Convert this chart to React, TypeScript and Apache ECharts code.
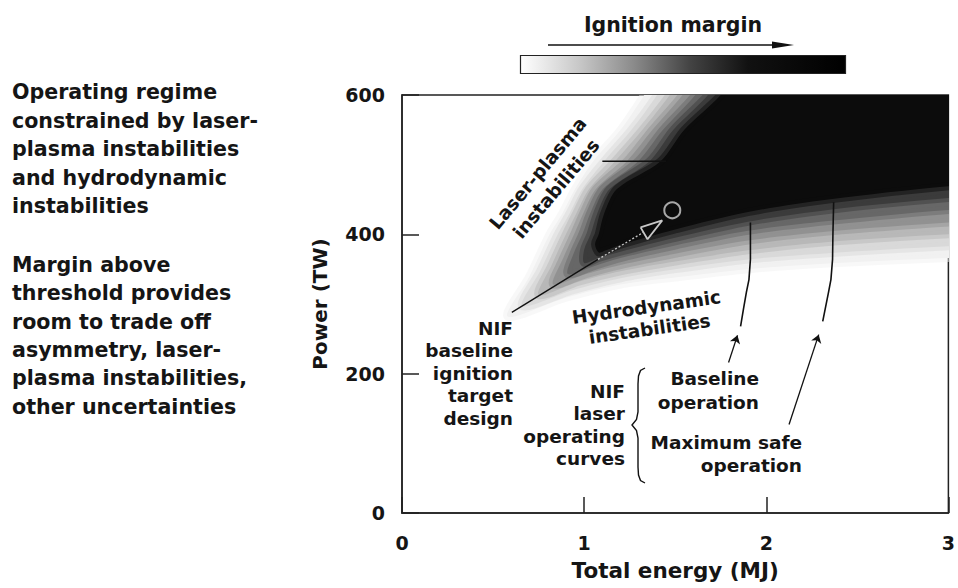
import React, { useEffect, useRef } from 'react';
import * as echarts from 'echarts';

const FONT = '"DejaVu Sans", "Liberation Sans", sans-serif';
const INK = '#151515';

// Axis ticks
const energyTicks = [0, 1, 2, 3];
const powerTicks = [0, 200, 400, 600];

// Ignition-margin shading contours (outer/lightest -> inner/black), points as [energy MJ, power TW]
const marginLevel1 = [
  [0.58, 282], [0.70, 340], [0.81, 400], [0.88, 430], [0.95, 465], [1.05, 505], [1.20, 550], [1.33, 600], [1.42, 640],
  [3.6, 640], [3.6, 371], [3.0, 366], [2.34, 358], [1.9, 350], [1.5, 338], [1.2, 328], [0.90, 309],
];
const marginLevel2 = [
  [0.66, 297], [0.76, 348], [0.855, 400], [0.92, 430], [0.99, 465], [1.11, 505], [1.26, 550], [1.40, 600], [1.49, 640],
  [3.6, 640], [3.6, 389], [3.0, 383], [2.34, 373], [1.9, 364], [1.5, 350], [1.2, 337], [0.94, 320],
];
const marginLevel3 = [
  [0.75, 313], [0.82, 355], [0.90, 400], [0.957, 430], [1.027, 465], [1.17, 505], [1.32, 550], [1.47, 600], [1.57, 640],
  [3.6, 640], [3.6, 407], [3.0, 400], [2.34, 389], [1.9, 377], [1.5, 361], [1.2, 347], [0.97, 332],
];
const marginLevel4 = [
  [0.83, 328], [0.88, 363], [0.945, 400], [0.995, 430], [1.065, 465], [1.235, 505], [1.375, 550], [1.54, 600], [1.64, 640],
  [3.6, 640], [3.6, 425], [3.0, 417], [2.34, 404], [1.9, 391], [1.5, 372], [1.2, 356], [1.01, 343],
];
const marginLevel5 = [
  [0.91, 343], [0.94, 371], [0.99, 400], [1.033, 430], [1.103, 465], [1.297, 505], [1.433, 550], [1.61, 600], [1.71, 640],
  [3.6, 640], [3.6, 444], [3.0, 435], [2.34, 419], [1.9, 405], [1.5, 384], [1.2, 366], [1.05, 354],
];
const marginLevel6 = [
  [1.0, 359], [1.0, 378], [1.035, 400], [1.072, 430], [1.14, 465], [1.36, 505], [1.49, 550], [1.68, 600], [1.79, 640],
  [3.6, 640], [3.6, 462], [3.0, 452], [2.34, 435], [1.9, 418], [1.5, 395], [1.2, 375], [1.08, 366],
];
const marginLevel7 = [
  [1.08, 374], [1.06, 386], [1.08, 400], [1.11, 430], [1.18, 465], [1.42, 505], [1.55, 550], [1.75, 600], [1.86, 640],
  [3.6, 640], [3.6, 480], [3.0, 469], [2.34, 450], [1.9, 432], [1.5, 407], [1.2, 385], [1.12, 377],
];
const marginLevels = [marginLevel1, marginLevel2, marginLevel3, marginLevel4, marginLevel5, marginLevel6, marginLevel7];
const marginGrays = [241, 217, 184, 145, 103, 59, 12];

// NIF laser operating curves
const baselineCurve = [[1.913, 417], [1.913, 364], [1.905, 335], [1.891, 317], [1.875, 293], [1.859, 268]];
const maxSafeCurve = [[2.370, 446], [2.366, 400], [2.364, 364], [2.355, 335], [2.342, 317], [2.310, 275]];

// Baseline ignition target design point and its marker
const baselineDesign = [[1.484, 434.5]];
const designArrowHead = [[1.310, 410], [1.429, 420], [1.348, 393], [1.310, 410]];
const designLeaderSolid = [[0.603, 288], [1.076, 364]];
const designLeaderDotted = [[1.076, 364], [1.326, 403]];
const lpThreshold = [[1.10, 505], [1.45, 505]];
const baselineLeader = [[1.793, 216], [1.842, 255]];
const maxSafeLeader = [[2.125, 127], [2.288, 256]];

const txt = (text: string, x: number, y: number, opts: any = {}) => ({
  type: 'text',
  x,
  y,
  rotation: opts.rotation || 0,
  z: 100,
  style: {
    text,
    fill: INK,
    fontFamily: FONT,
    fontWeight: 'bold',
    fontSize: opts.size || 18.5,
    lineHeight: opts.lh || 22.5,
    align: opts.align || 'left',
    verticalAlign: opts.va || 'top',
  },
});

export default function App() {
  const ref = useRef<HTMLDivElement>(null);

  useEffect(() => {
    if (!ref.current) return;
    const chart = echarts.init(ref.current, undefined, { renderer: 'svg' });

    const lineSeries = (data: number[][], color: string, width: number, type: any = 'solid', z = 10) => ({
      type: 'line',
      data,
      showSymbol: false,
      symbol: 'none',
      silent: true,
      z,
      lineStyle: { color, width, type },
    });

    const option: any = {
      animation: false,
      grid: {
        left: 402,
        right: 4,
        top: 95,
        bottom: 75,
        show: true,
        borderColor: '#222',
        borderWidth: 1.5,
        backgroundColor: 'transparent',
      },
      xAxis: {
        type: 'value',
        min: energyTicks[0],
        max: energyTicks[energyTicks.length - 1],
        interval: 1,
        name: 'Total energy (MJ)',
        nameLocation: 'middle',
        nameGap: 46,
        nameTextStyle: { fontFamily: FONT, fontWeight: 'bold', fontSize: 21.5, color: INK },
        axisLine: { show: true, lineStyle: { color: '#222', width: 1.5 } },
        axisTick: { show: true, inside: true, length: 16, lineStyle: { color: '#222', width: 1.5 } },
        axisLabel: { fontFamily: FONT, fontWeight: 'bold', fontSize: 19, color: INK, margin: 20 },
        splitLine: { show: false },
      },
      yAxis: {
        type: 'value',
        min: powerTicks[0],
        max: powerTicks[powerTicks.length - 1],
        interval: 200,
        name: 'Power (TW)',
        nameLocation: 'middle',
        nameGap: 72,
        nameTextStyle: { fontFamily: FONT, fontWeight: 'bold', fontSize: 20, color: INK },
        axisLine: { show: true, lineStyle: { color: '#222', width: 1.5 } },
        axisTick: { show: true, inside: true, length: 17, lineStyle: { color: '#222', width: 1.5 } },
        axisLabel: { fontFamily: FONT, fontWeight: 'bold', fontSize: 19, color: INK, margin: 17 },
        splitLine: { show: false },
      },
      series: [
        {
          type: 'custom',
          coordinateSystem: 'cartesian2d',
          clip: true,
          silent: true,
          z: 1,
          data: marginLevels.map((_, i) => [i]),
          encode: { x: -1, y: -1 },
          renderItem: (params: any, api: any) => {
            const idx = params.dataIndex;
            const g = marginGrays[idx];
            const pts = marginLevels[idx].map((p) => api.coord(p));
            return {
              type: 'polygon',
              shape: { points: pts, smooth: 0.3 },
              style: {
                fill: `rgb(${g},${g},${g})`,
                stroke: `rgba(${g},${g},${g},0.5)`,
                lineWidth: 8,
                lineJoin: 'round',
              },
            };
          },
        },
        lineSeries(lpThreshold, '#111', 1.5),
        lineSeries(baselineCurve, '#111', 1.6),
        lineSeries(maxSafeCurve, '#111', 1.6),
        lineSeries(designLeaderSolid, '#111', 1.3),
        lineSeries(designLeaderDotted, '#c4c4c4', 1.3, [2, 2]),
        lineSeries(designArrowHead, '#c8c8c8', 1.8, 'solid', 12),
        {
          type: 'scatter',
          data: baselineDesign,
          symbol: 'circle',
          symbolSize: 16,
          silent: true,
          z: 12,
          itemStyle: { color: 'rgba(0,0,0,0)', borderColor: '#d0d0d0', borderWidth: 2 },
        },
        {
          type: 'lines',
          coordinateSystem: 'cartesian2d',
          silent: true,
          z: 12,
          symbol: ['none', 'arrow'],
          symbolSize: [0, 8],
          lineStyle: { color: '#111', width: 1.3, opacity: 1 },
          data: [{ coords: baselineLeader }, { coords: maxSafeLeader }],
        },
      ],
      graphic: [
        // Ignition margin scale
        txt('Ignition margin', 673, 25, { size: 20.5, align: 'center', va: 'middle' }),
        {
          type: 'line',
          z: 100,
          shape: { x1: 548, y1: 45, x2: 776, y2: 45 },
          style: { stroke: '#111', lineWidth: 1.6 },
        },
        {
          type: 'polygon',
          z: 100,
          shape: { points: [[772, 41.5], [794, 45], [772, 48.5]] },
          style: { fill: '#111' },
        },
        {
          type: 'rect',
          z: 100,
          shape: { x: 520.5, y: 55.5, width: 325, height: 18 },
          style: {
            stroke: '#222',
            lineWidth: 1.2,
            fill: new echarts.graphic.LinearGradient(0, 0, 1, 0, [
              { offset: 0, color: '#ffffff' },
              { offset: 0.05, color: '#f0f0f0' },
              { offset: 0.18, color: '#c8c8c8' },
              { offset: 0.35, color: '#8a8a8a' },
              { offset: 0.52, color: '#444444' },
              { offset: 0.7, color: '#111111' },
              { offset: 1, color: '#000000' },
            ]),
          },
        },
        // Left explanatory text
        txt('Operating regime\nconstrained by laser-\nplasma instabilities\nand hydrodynamic\ninstabilities', 12, 78, { size: 20.6, lh: 28.5 }),
        txt('Margin above\nthreshold provides\nroom to trade off\nasymmetry, laser-\nplasma instabilities,\nother uncertainties', 12, 251, { size: 20.6, lh: 28.3 }),
        // In-plot annotations
        txt('Laser-plasma\ninstabilities', 547, 181, { align: 'center', va: 'middle', rotation: 0.873, lh: 24 }),
        txt('Hydrodynamic\ninstabilities', 648, 318, { align: 'center', va: 'middle', rotation: 0.14, lh: 22 }),
        txt('NIF\nbaseline\nignition\ntarget\ndesign', 513, 317, { align: 'right' }),
        txt('NIF\nlaser\noperating\ncurves', 625, 380, { align: 'right' }),
        txt('Baseline\noperation', 759, 366, { align: 'right', lh: 24 }),
        txt('Maximum safe\noperation', 802, 430.5, { align: 'right', lh: 23 }),
        {
          type: 'polyline',
          z: 100,
          shape: {
            points: [
              [645, 368], [640.5, 370.5], [638.5, 376], [638, 384], [638, 412], [636.5, 419.5], [632, 425],
              [636.5, 430.5], [638, 438], [638, 467], [638.5, 475], [640.5, 480.5], [645, 483],
            ],
          },
          style: { stroke: '#111', lineWidth: 1.4, fill: null },
        },
      ],
    };

    chart.setOption(option);
    return () => chart.dispose();
  }, []);

  return (
    <div
      ref={ref}
      style={{ position: 'fixed', left: 0, top: 0, width: 958, height: 588, background: '#ffffff' }}
    />
  );
}
